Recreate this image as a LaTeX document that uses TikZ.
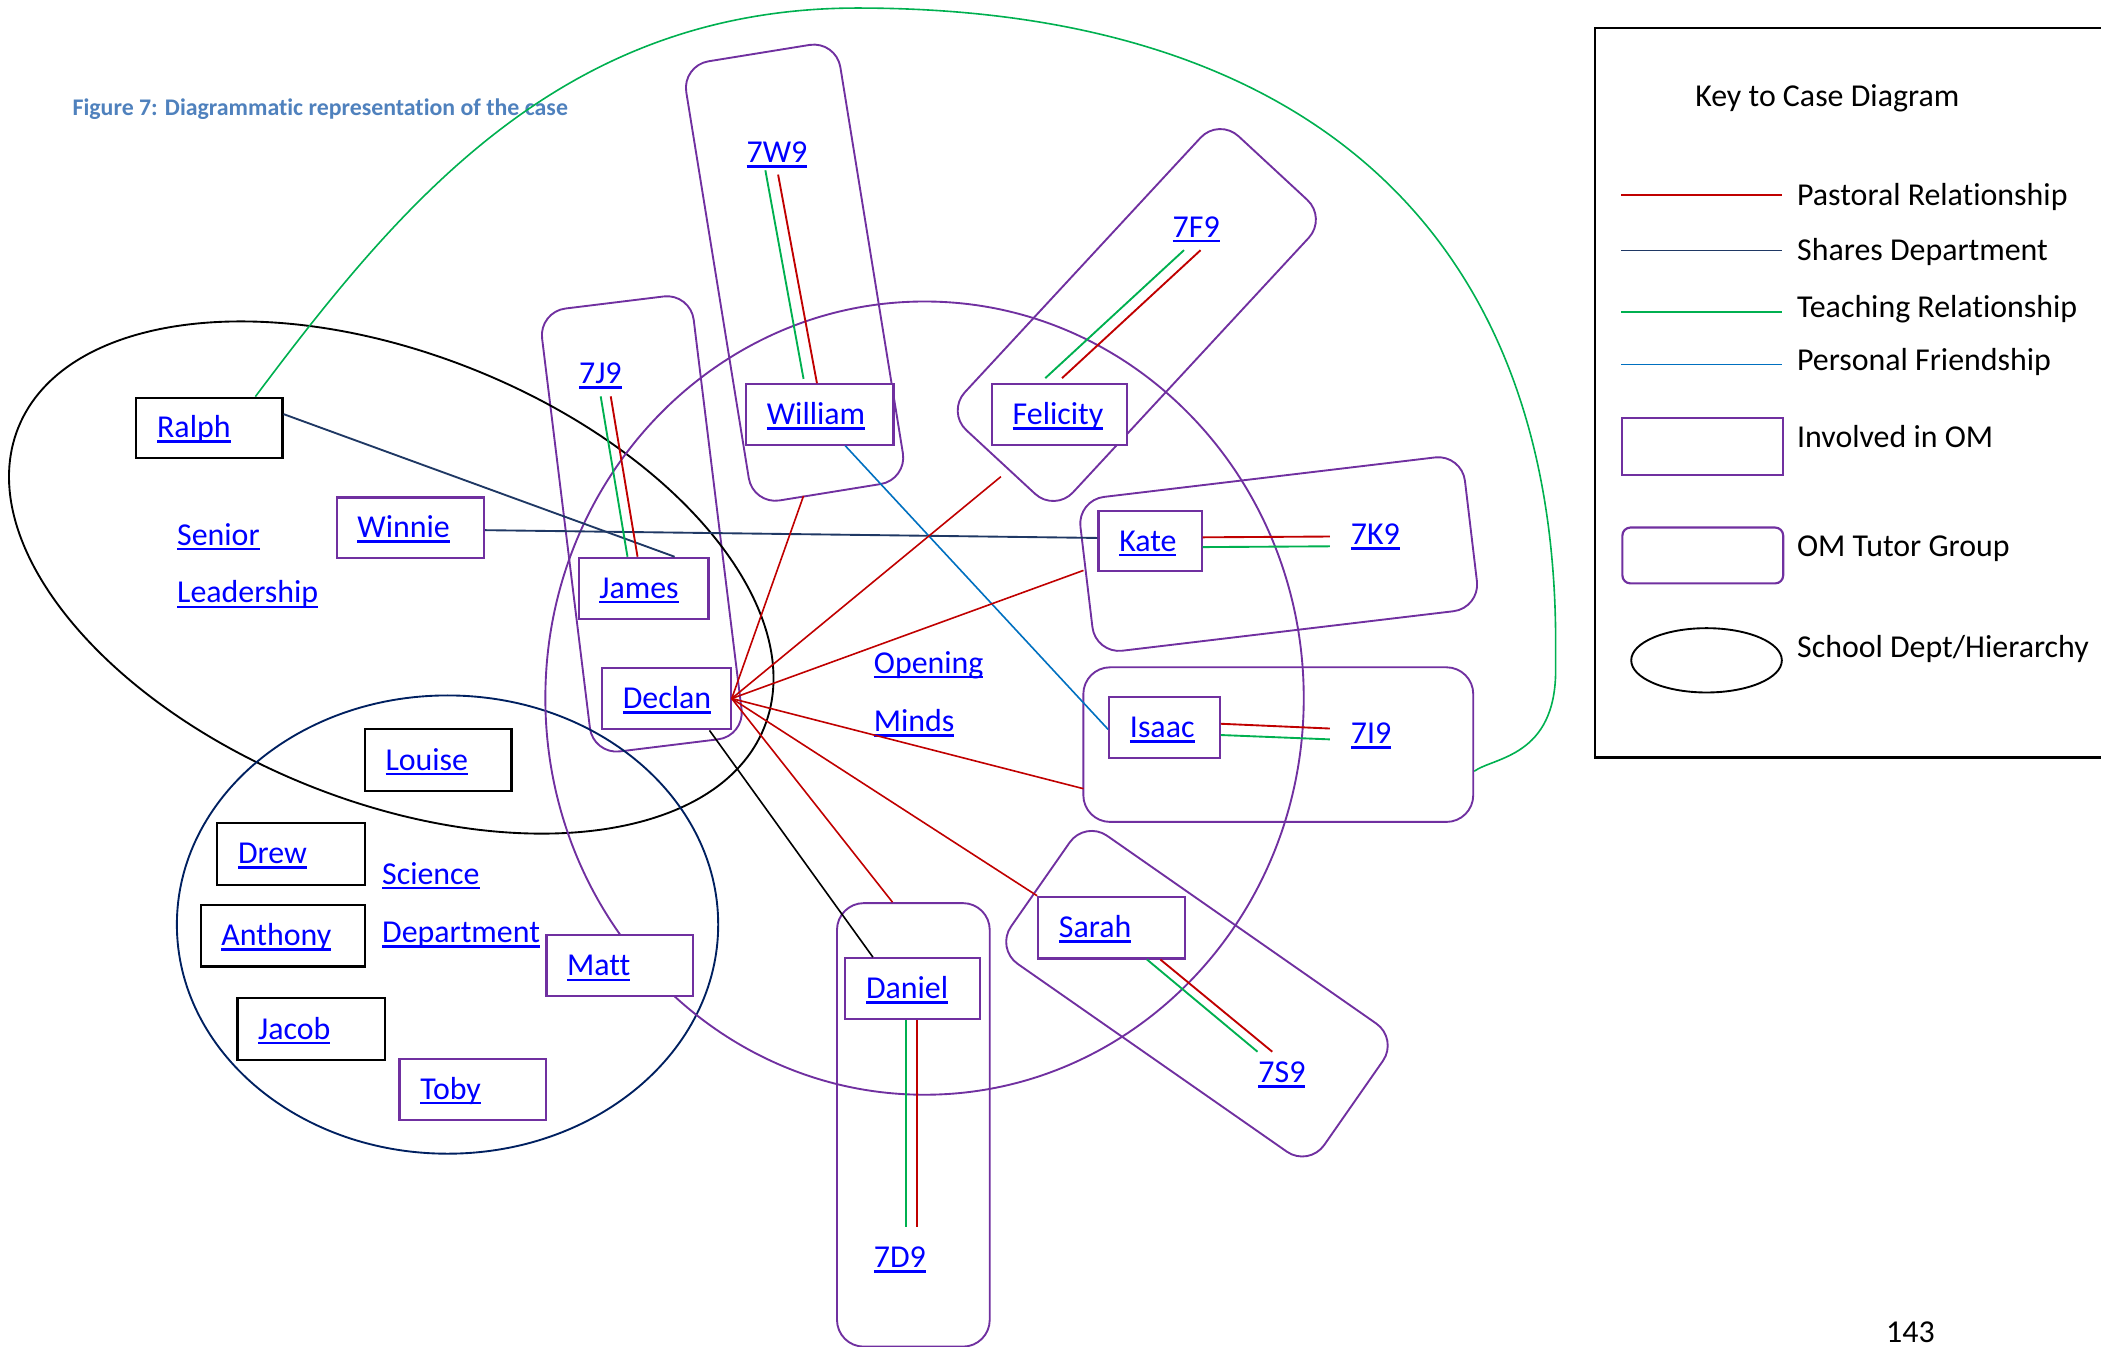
\documentclass[tikz,border=0pt]{standalone}
\usepackage{fontspec}
\setmainfont{Carlito}[Ligatures=NoCommon]
\usetikzlibrary{calc}
\definecolor{om}{HTML}{7030A0}
\definecolor{past}{HTML}{C00000}
\definecolor{dept}{HTML}{1F3864}
\definecolor{teach}{HTML}{00B050}
\definecolor{friend}{HTML}{0070C0}
\definecolor{lnkblue}{HTML}{0000FF}
\definecolor{titleblue}{HTML}{4F81BD}
\definecolor{sci}{HTML}{002060}
\newlength\ulw
\newcommand\lnk[1]{\settowidth\ulw{#1}\textcolor{lnkblue}{\rlap{\rule[-0.16em]{\ulw}{0.08em}}#1}}
\begin{document}
\begin{tikzpicture}[x=1pt,y=-1pt,
  font=\fontsize{23.8}{28}\selectfont,
  pb/.style={draw=om, fill=white, line width=1.6pt, anchor=north west, inner xsep=15.5pt, inner ysep=0pt, align=left, text height=16pt, text depth=1pt},
  bb/.style={pb, draw=black},
  plain/.style={anchor=base west, inner sep=0pt, text height=16pt, text depth=5pt},
  ktext/.style={anchor=base west, inner sep=0pt},
  grp/.style={draw=om, line width=1.4pt, rounded corners=20pt, inner sep=0pt},
  rel/.style={line width=1.4pt},
  pastl/.style={rel, draw=past},
  deptl/.style={rel, draw=dept},
  teachl/.style={rel, draw=teach},
  friendl/.style={rel, draw=friend}]
\useasboundingbox (0,0) rectangle (1568,1005);

% title
\node[anchor=base west, inner sep=0pt, font=\fontsize{17.8}{20}\bfseries\selectfont, text=titleblue] (title) at (54,86) {Figure 7: Diagrammatic representation of the case};

% tutor groups
\node[grp, minimum width=116.5pt, minimum height=332pt, rotate=9.2] (g7w9) at (593,203.5) {};
\node[grp, minimum width=114pt, minimum height=333pt, rotate=7] (g7j9) at (479,391) {};
\node[grp, minimum width=299pt, minimum height=110pt, rotate=47.2] (g7f9) at (848.4,235.1) {};
\node[grp, minimum width=289pt, minimum height=115.6pt, rotate=6.8] (g7k9) at (954.3,413.5) {};
\node[grp, minimum width=291pt, minimum height=115.4pt] (g7i9) at (954,555.7) {};
\node[grp, minimum width=285pt, minimum height=116.6pt, rotate=-34.9] (g7s9) at (893.3,741.6) {};
\node[grp, minimum width=114pt, minimum height=331pt] (g7d9) at (681.65,839.5) {};

% department / hierarchy ellipses
\draw[line width=1.4pt, shift={(292,431)}, rotate=-21.9] (0,0) ellipse [x radius=300pt, y radius=167pt];
\draw[sci, line width=1.4pt] (334,690) ellipse [x radius=202pt, y radius=171pt];
\draw[om, line width=1.4pt] (690,521) ellipse [x radius=283pt, y radius=296pt];

% people
\node[bb, minimum width=109pt, text width=78pt, minimum height=45pt] (ralph) at (101,296) {\lnk{Ralph}};
\node[pb, minimum width=110pt, text width=79pt, minimum height=45pt] (winnie) at (250.5,370.5) {\lnk{Winnie}};
\node[pb, minimum width=97pt, text width=66pt, minimum height=45.5pt] (james) at (431,415.5) {\lnk{James}};
\node[pb, minimum width=96pt, text width=65pt, minimum height=46pt] (declan) at (448.5,497.5) {\lnk{Declan}};
\node[pb, minimum width=110pt, text width=79pt, minimum height=45pt] (william) at (556,286) {\lnk{William}};
\node[pb, minimum width=101pt, text width=70pt, minimum height=45pt] (felicity) at (739.5,286) {\lnk{Felicity}};
\node[pb, minimum width=77pt, text width=46pt, minimum height=45pt] (kate) at (819,380.5) {\lnk{Kate}};
\node[pb, minimum width=82.5pt, text width=51.5pt, minimum height=45.5pt] (isaac) at (827,519.3) {\lnk{Isaac}};
\node[pb, minimum width=109.5pt, text width=78.5pt, minimum height=46pt] (sarah) at (774,668.5) {\lnk{Sarah}};
\node[pb, minimum width=100.5pt, text width=69.5pt, minimum height=45.5pt] (daniel) at (630,714.3) {\lnk{Daniel}};
\node[pb, minimum width=109.5pt, text width=78.5pt, minimum height=45.5pt] (matt) at (407,697.3) {\lnk{Matt}};
\node[pb, minimum width=109.5pt, text width=78.5pt, minimum height=45.5pt] (toby) at (297.4,789.3) {\lnk{Toby}};
\node[bb, minimum width=109.5pt, text width=78.5pt, minimum height=46pt] (louise) at (271.4,543.4) {\lnk{Louise}};
\node[bb, minimum width=110pt, text width=79pt, minimum height=46pt] (drew) at (161.4,613.4) {\lnk{Drew}};
\node[bb, minimum width=122.5pt, text width=91.5pt, minimum height=46pt] (anthony) at (149,674.5) {\lnk{Anthony}};
\node[bb, minimum width=110pt, text width=79pt, minimum height=46pt] (jacob) at (176.4,744.2) {\lnk{Jacob}};

% group / class labels
\node[plain] (senior) at (132,407) {\lnk{Senior}};
\node[plain] (leader) at (132,450) {\lnk{Leadership}};
\node[plain] (science) at (285,660) {\lnk{Science}};
\node[plain] (deptlab) at (285,703.5) {\lnk{Department}};
\node[plain] (opening) at (652,502.5) {\lnk{Opening}};
\node[plain] (minds) at (652,546) {\lnk{Minds}};
\node[plain] (l7w9) at (557,121.5) {\lnk{7W9}};
\node[plain] (l7j9) at (432,286.5) {\lnk{7J9}};
\node[plain] (l7f9) at (875,177) {\lnk{7F9}};
\node[plain] (l7k9) at (1008,406.5) {\lnk{7K9}};
\node[plain] (l7i9) at (1008,555) {\lnk{7I9}};
\node[plain] (l7s9) at (939,808) {\lnk{7S9}};
\node[plain] (l7d9) at (652,946) {\lnk{7D9}};

% free ends of Declan's pastoral lines
\coordinate (dw) at (599.7,370);
\coordinate (df) at (747,355.7);
\coordinate (dk) at (808.6,425.7);
\coordinate (di) at (808.6,588.6);

% connectors
\draw[teachl, line width=1.2pt] ($(ralph.north west)!0.81!(ralph.north east)$) .. controls (300,150) and (420,6) .. (640,6)
  .. controls (960,6) and (1161,160) .. (1161,480) -- (1161,500)
  .. controls (1161,565) and (1115,565) .. ($(g7i9.north east)!0.67!(g7i9.south east)$);
\draw[deptl] ($(ralph.north east)!0.28!(ralph.south east)$) -- ($(james.north west)!0.735!(james.north east)$);
\draw[deptl] ($(winnie.north east)!0.54!(winnie.south east)$) -- ($(kate.north west)!0.45!(kate.south west)$);
\draw[friendl, line width=1.2pt] ($(william.south west)!0.67!(william.south east)$) -- ($(isaac.west)+(0,1.5)$);

\draw[teachl] ($(l7w9.south west)+(14.2,0.4)$) -- ($(william.north west)+(43.7,-3.2)$);
\draw[pastl] ($(l7w9.south west)+(23.7,3.6)$) -- ($(william.north west)+(53.7,0)$);
\draw[teachl] ($(l7j9.south west)+(16.3,4.1)$) -- ($(james.north west)+(37.3,0)$);
\draw[pastl] ($(l7j9.south west)+(23.8,4.1)$) -- ($(james.north west)+(44.8,0)$);
\draw[teachl] ($(l7f9.south west)+(8.6,4.5)$) -- ($(felicity.north west)+(40.6,-3.8)$);
\draw[pastl] ($(l7f9.south west)+(21,4.5)$) -- ($(felicity.north west)+(53.1,-3.8)$);
\draw[pastl] ($(kate.east)+(0,-2.8)$) -- ($(l7k9.south west)+(-15.5,-11.3)$);
\draw[teachl] ($(kate.east)+(0,4.5)$) -- ($(l7k9.south west)+(-15.5,-4)$);
\draw[pastl] ($(isaac.east)+(0,-2.7)$) -- ($(l7i9.south west)+(-15.5,-16.5)$);
\draw[teachl] ($(isaac.east)+(0,5.7)$) -- ($(l7i9.south west)+(-15.5,-8.4)$);
\draw[pastl] ($(sarah.south west)+(92,0)$) -- ($(l7s9.north west)+(10.5,-6.9)$);
\draw[teachl] ($(sarah.south west)+(82,0)$) -- ($(l7s9.north west)+(-0.5,-6.9)$);
\draw[teachl] ($(daniel.south west)+(46.2,0)$) -- ($(l7d9.north west)+(24.2,-14.3)$);
\draw[pastl] ($(daniel.south west)+(54.2,0)$) -- ($(l7d9.north west)+(32.2,-14.3)$);

\draw[rel, line width=1.2pt] ($(declan.south west)!0.83!(declan.south east)$) -- ($(daniel.north west)!0.21!(daniel.north east)$);
\draw[pastl, line width=1.2pt] (declan.east) -- (dw);
\draw[pastl, line width=1.2pt] (declan.east) -- (df);
\draw[pastl, line width=1.2pt] (declan.east) -- (dk);
\draw[pastl, line width=1.2pt] (declan.east) -- (di);
\draw[pastl, line width=1.2pt] (declan.east) -- (sarah.north west);
\draw[pastl, line width=1.2pt] (declan.east) -- ($(g7d9.north west)!0.365!(g7d9.north east)$);

% key
\node[draw, line width=1.8pt, anchor=north west, minimum width=420pt, minimum height=544.5pt, inner sep=0pt] (keybox) at (1189.5,20) {};
\node[ktext] (khead) at (1265,79.7) {Key to Case Diagram};
\node[ktext] (kpast) at (1341,153) {Pastoral Relationship};
\node[ktext] (kdept) at (1341,194.5) {Shares Department};
\node[ktext] (kteach) at (1341,236.6) {Teaching Relationship};
\node[ktext] (kfriend) at (1341,276.8) {Personal Friendship};
\node[ktext] (kinv) at (1341,334.2) {Involved in OM};
\node[ktext] (ktut) at (1341,415.5) {OM Tutor Group};
\node[ktext] (kschool) at (1341,491) {School Dept/Hierarchy};
\draw[pastl] (1210,145.4) -- (1330,145.4);
\draw[deptl] (1210,186.9) -- (1330,186.9);
\draw[teachl] (1210,232.8) -- (1330,232.8);
\draw[friendl] (1210,272) -- (1330,272);
\node[draw=om, line width=1.6pt, anchor=north west, minimum width=120pt, minimum height=42.8pt, inner sep=0pt] (kbox) at (1210,311.2) {};
\node[draw=om, line width=1.6pt, rounded corners=6pt, anchor=north west, minimum width=120pt, minimum height=41.7pt, inner sep=0pt] (kgrp) at (1210,392.9) {};
\draw[line width=1.4pt] (1273.6,492.8) ellipse [x radius=56.2pt, y radius=24pt];

\node[ktext] (pnum) at (1407.5,1002) {143};
\end{tikzpicture}
\end{document}
